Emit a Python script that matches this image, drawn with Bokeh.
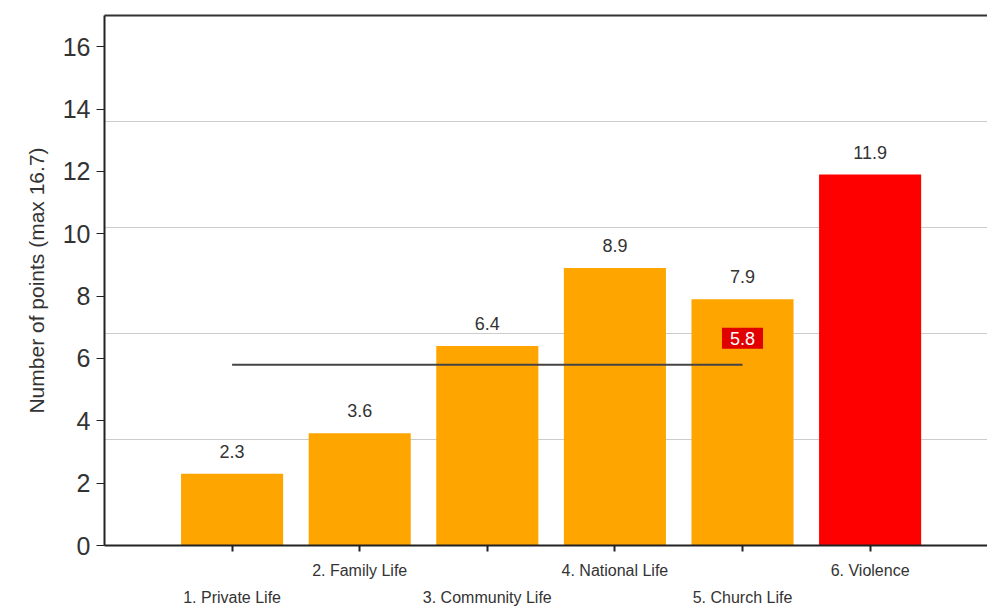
from bokeh.plotting import figure
from bokeh.models import Range1d, FixedTicker, LinearAxis, Label, ColumnDataSource
from bokeh.core.properties import value
from bokeh.embed import file_html
from bokeh.resources import INLINE

categories = ["1. Private Life", "2. Family Life", "3. Community Life",
              "4. National Life", "5. Church Life", "6. Violence"]
positions = [1, 2, 3, 4, 5, 6]
scores = [2.3, 3.6, 6.4, 8.9, 7.9, 11.9]
bar_colors = ["#FFA500", "#FFA500", "#FFA500", "#FFA500", "#FFA500", "#FF0000"]
average = 5.8
y_ticks = [0, 2, 4, 6, 8, 10, 12, 14, 16]
grid_values = [3.4, 6.8, 10.2, 13.6]
y_title = "Number of points (max 16.7)"

FONT = "Liberation Sans"

p = figure(width=987, height=608, output_backend="svg", toolbar_location=None,
           x_range=Range1d(0, 6.92), y_range=Range1d(0, 17.0),
           min_border_left=104, min_border_top=15, min_border_bottom=63,
           min_border_right=0, x_axis_location=None, y_axis_location="left")
p.outline_line_color = None
p.background_fill_color = "white"
p.border_fill_color = "white"

src = ColumnDataSource(dict(x=positions, top=scores, color=bar_colors,
                            label=[f"{v:.1f}" for v in scores]))
p.vbar(x="x", top="top", width=0.8, color="color", source=src, line_color=None)
p.text(x="x", y="top", text="label", source=src, text_align="center",
       text_baseline="bottom", y_offset=-16, text_font=value(FONT),
       text_font_size="18px", text_color="#333333")

p.line(x=[positions[0], positions[4]], y=[average, average],
       line_color="#444444", line_width=2)
p.add_layout(Label(x=positions[4], y=average, text=f"{average:.1f}",
                   text_align="center", text_baseline="bottom", y_offset=16,
                   text_color="white", text_font=FONT, text_font_size="18px",
                   background_fill_color="#E00000", padding=(8, 4)))

# y axis
ya = p.yaxis[0]
ya.ticker = FixedTicker(ticks=y_ticks)
ya.axis_line_width = 2
ya.axis_line_color = "#222222"
ya.major_tick_line_color = "#222222"
ya.major_tick_line_width = 1
ya.major_tick_out = 8
ya.major_tick_in = 0
ya.minor_tick_line_color = None
ya.major_label_standoff = 6
ya.major_label_text_font = FONT
ya.major_label_text_font_size = "25px"
ya.major_label_text_color = "#333333"
ya.axis_label = y_title
ya.axis_label_text_font = FONT
ya.axis_label_text_font_size = "21px"
ya.axis_label_text_font_style = "normal"
ya.axis_label_text_color = "#333333"
ya.axis_label_standoff = 12

p.ygrid.ticker = FixedTicker(ticks=grid_values)
p.ygrid.grid_line_color = "#cccccc"
p.ygrid.grid_line_width = 1
p.xgrid.grid_line_color = None

# top border
top_axis = LinearAxis(ticker=FixedTicker(ticks=[]), axis_line_width=2,
                      axis_line_color="#333333", major_tick_out=0, major_tick_in=0,
                      minor_tick_out=0, minor_tick_in=0,
                      major_label_text_font_size="0px")
p.add_layout(top_axis, "above")

# bottom axis: upper row (even labels) with ticks
upper = LinearAxis(ticker=FixedTicker(ticks=positions),
                   major_label_overrides={pos: (cat if i % 2 == 1 else "")
                                          for i, (pos, cat) in enumerate(zip(positions, categories))})
upper.axis_line_width = 2
upper.axis_line_color = "#222222"
upper.major_tick_line_color = "#222222"
upper.major_tick_line_width = 2
upper.major_tick_out = 6
upper.major_tick_in = 0
upper.minor_tick_line_color = None
upper.major_label_standoff = 10
upper.major_label_text_font = FONT
upper.major_label_text_font_size = "16px"
upper.major_label_text_color = "#333333"
p.add_layout(upper, "below")

lower = LinearAxis(ticker=FixedTicker(ticks=positions),
                   major_label_overrides={pos: (cat if i % 2 == 0 else "")
                                          for i, (pos, cat) in enumerate(zip(positions, categories))})
lower.axis_line_color = None
lower.major_tick_line_color = None
lower.minor_tick_line_color = None
lower.major_tick_out = 0
lower.major_tick_in = 0
lower.major_label_standoff = 7
lower.major_label_text_font = FONT
lower.major_label_text_font_size = "16px"
lower.major_label_text_color = "#333333"
p.add_layout(lower, "below")

open("out.html", "w").write(file_html(p, INLINE))
